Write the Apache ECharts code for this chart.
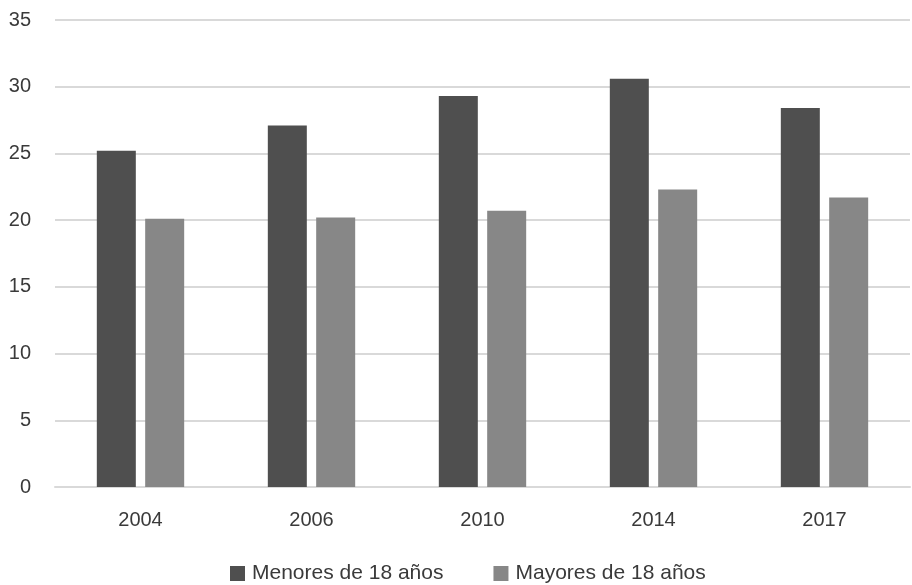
<!DOCTYPE html>
<html><head><meta charset="utf-8">
<script src="https://cdn.jsdelivr.net/npm/echarts@6/dist/echarts.min.js"></script>
<style>html,body{margin:0;padding:0;background:#fff}#c{width:912px;height:585px}</style>
</head><body><div id="c"></div>
<script>
var categories = ['2004','2006','2010','2014','2017'];
var menores = [25.2, 27.1, 29.3, 30.6, 28.4];
var mayores = [20.1, 20.2, 20.7, 22.3, 21.7];
var seriesNames = ['Menores de 18 años','Mayores de 18 años'];

var font = 'Liberation Sans, Arial, Helvetica, sans-serif';
var chart = echarts.init(document.getElementById('c'), null, {renderer:'canvas'});
chart.setOption({
  animation:false,
  backgroundColor:'#ffffff',
  textStyle:{fontFamily:font},
  grid:{left:55, right:2, top:20, bottom:98, containLabel:false},
  legend:{
    top:563, left:225, padding:[0,5,0,5], itemWidth:15, itemHeight:15, itemGap:50, icon:'rect',
    textStyle:{fontSize:21, color:'#3a3a3a', fontFamily:font, padding:[0,0,0,2]},
    data:seriesNames
  },
  xAxis:{
    type:'category', data:categories,
    axisLine:{show:true, lineStyle:{color:'#d9d9d9', width:2}},
    axisTick:{show:false},
    axisLabel:{fontSize:20, color:'#3a3a3a', margin:23, fontFamily:font}
  },
  yAxis:{
    type:'value', min:0, max:35, interval:5,
    axisLine:{show:false}, axisTick:{show:false},
    axisLabel:{fontSize:20, color:'#3a3a3a', margin:24, fontFamily:font},
    splitLine:{lineStyle:{color:'#d9d9d9', width:2}}
  },
  series:[
    {name:seriesNames[0], type:'bar', data:menores, barWidth:39, barGap:'24%', itemStyle:{color:'#4f4f4f'}},
    {name:seriesNames[1], type:'bar', data:mayores, barWidth:39, itemStyle:{color:'#878787'}}
  ]
});
</script></body></html>
